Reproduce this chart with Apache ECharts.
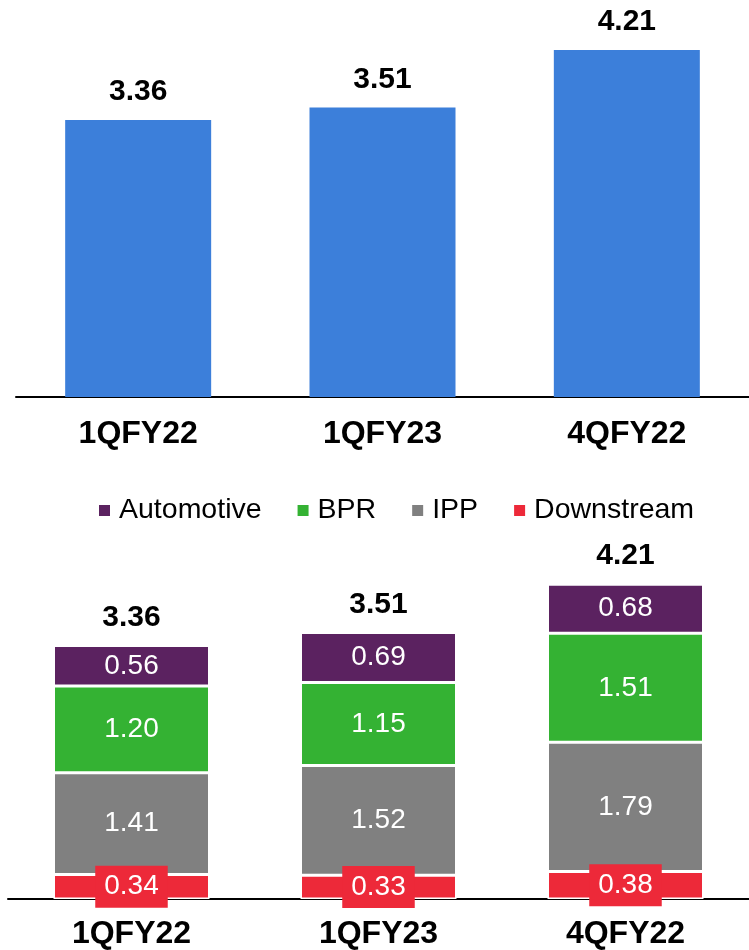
<!DOCTYPE html>
<html>
<head>
<meta charset="utf-8">
<script src="https://cdn.jsdelivr.net/npm/echarts@6/dist/echarts.min.js"></script>
<style>
html,body{margin:0;padding:0;background:#fff;}
#c{width:749px;height:950px;}
</style>
</head>
<body>
<div id="c"></div>
<script>
const categories = ['1QFY22', '1QFY23', '4QFY22'];
const totals = [3.36, 3.51, 4.21];
const downstream = [0.34, 0.33, 0.38];
const ipp = [1.41, 1.52, 1.79];
const bpr = [1.20, 1.15, 1.51];
const automotive = [0.56, 0.69, 0.68];

const FONT = '"Liberation Sans", Arial, sans-serif';
const chart = echarts.init(document.getElementById('c'));

function seg(name, data, color, extraLabel) {
  return {
    name: name, type: 'bar', stack: 's', xAxisIndex: 1, yAxisIndex: 1,
    data: data, barWidth: 156,
    itemStyle: { color: color, borderColor: '#fff', borderWidth: 1.5 },
    label: Object.assign({
      show: true, position: 'inside', color: '#fff', fontFamily: FONT, fontSize: 28,
      formatter: p => p.value.toFixed(2)
    }, extraLabel || {})
  };
}

chart.setOption({
  animation: false,
  textStyle: { fontFamily: FONT },
  grid: [
    { left: 16, right: -3, top: 26, bottom: 553 },
    { left: 8, right: -6, top: 538, bottom: 47 }
  ],
  legend: {
    data: ['Automotive', 'BPR', 'IPP', 'Downstream'],
    left: 92, top: 491,
    icon: 'rect', itemWidth: 13, itemHeight: 13, itemGap: 34,
    textStyle: { fontFamily: FONT, fontSize: 28.5, color: '#000', padding: [0, 0, 0, 3] }
  },
  xAxis: [
    { type: 'category', gridIndex: 0, data: categories,
      axisLine: { lineStyle: { color: '#000', width: 2 } }, axisTick: { show: false },
      axisLabel: { color: '#000', fontWeight: 'bold', fontSize: 32, fontFamily: FONT, margin: 21 } },
    { type: 'category', gridIndex: 1, data: categories,
      axisLine: { lineStyle: { color: '#000', width: 2 } }, axisTick: { show: false },
      axisLabel: { color: '#000', fontWeight: 'bold', fontSize: 32, fontFamily: FONT, margin: 19 } }
  ],
  yAxis: [
    { type: 'value', gridIndex: 0, min: 0, max: 4.5, show: false, splitLine: { show: false } },
    { type: 'value', gridIndex: 1, min: 0, max: 5, show: false, splitLine: { show: false } }
  ],
  series: [
    { name: 'Total', type: 'bar', xAxisIndex: 0, yAxisIndex: 0, data: totals, barWidth: 146,
      itemStyle: { color: '#3C7FDA' },
      label: { show: true, position: 'top', distance: 13, color: '#000', fontWeight: 'bold',
        fontSize: 30, fontFamily: FONT, formatter: p => p.value.toFixed(2) } },
    seg('Downstream', downstream, '#ED2939', { backgroundColor: '#ED2939', padding: [7, 9, 7, 9] }),
    seg('IPP', ipp, '#808080'),
    seg('BPR', bpr, '#34B233'),
    seg('Automotive', automotive, '#5B2260'),
    { name: 'TotalLabel', type: 'bar', stack: 's', xAxisIndex: 1, yAxisIndex: 1,
      data: [0, 0, 0], barWidth: 156, itemStyle: { color: 'transparent' },
      label: { show: true, position: 'top', distance: 13, color: '#000', fontWeight: 'bold',
        fontSize: 30, fontFamily: FONT, formatter: p => totals[p.dataIndex].toFixed(2) } }
  ]
});
</script>
</body>
</html>
